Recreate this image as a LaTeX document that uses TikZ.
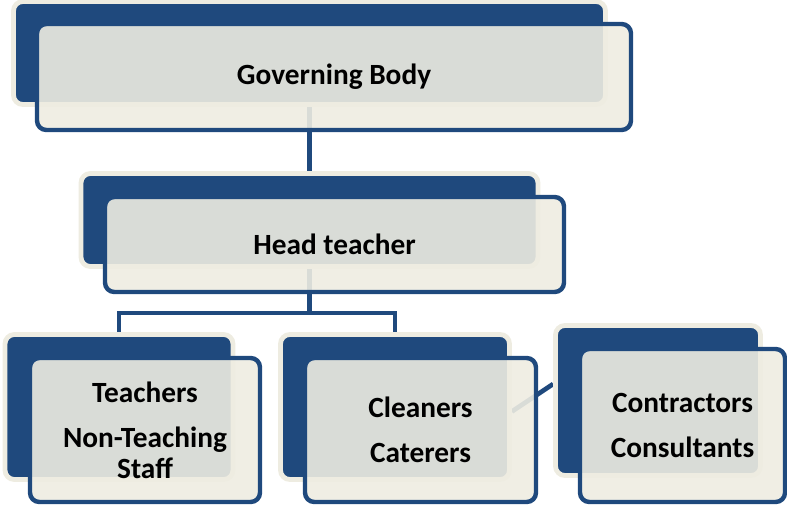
\documentclass[tikz,border=0pt]{standalone}
\usepackage{fontspec}
\setmainfont{Carlito}
\usetikzlibrary{calc}
\definecolor{orgblue}{HTML}{1F497D}
\definecolor{orgcream}{HTML}{EEECE1}
\pgfdeclarelayer{background}
\pgfsetlayers{background,main}
\tikzstyle{shadowbox}=[draw=orgcream, line width=3.6pt, fill=orgblue, rounded corners=7pt, inner sep=0pt]
\tikzstyle{frontbox}=[draw=orgblue, line width=3.3pt, fill=orgcream, fill opacity=0.9, text opacity=1, rounded corners=7pt, inner sep=0pt, align=center, font=\fontsize{22}{23.25}\selectfont\bfseries]
\tikzstyle{orgline}=[draw=orgblue, line width=3.5pt]
\tikzset{boxsize/.style 2 args={minimum width=#1*0.75pt, minimum height=#2*0.75pt}}

\begin{document}
\begin{tikzpicture}[x=0.75pt, y=-0.75pt]
    \useasboundingbox (0,0) rectangle (787,506);
    \node [shadowbox, boxsize={592}{103}] (gbback) at (309.5,53) {};
    \node [frontbox, boxsize={594}{106}] (gb) at ($(gbback)+(24.5,24)$) {Governing Body};
    \node [shadowbox, boxsize={457}{93}] (htback) at (309.5,220) {};
    \node [frontbox, boxsize={459}{95}] (ht) at ($(htback)+(25,24.5)$) {Head teacher};
    \node [shadowbox, boxsize={228}{145}] (tchback) at (119,407) {};
    \node [frontbox, boxsize={230}{144}] (tch) at ($(tchback)+(26,23)$) {Teachers\\[10.5pt]Non-Teaching\\Staff};
    \node [shadowbox, boxsize={229}{145}] (clnback) at (395,407) {};
    \node [frontbox, boxsize={231}{144}] (cln) at ($(clnback)+(25.5,23)$) {Cleaners\\[10.5pt]Caterers};
    \node [shadowbox, boxsize={205}{150}] (conback) at (658,400.5) {};
    \node [frontbox, boxsize={205}{153}] (con) at ($(conback)+(24.5,25)$) {Contractors\\[10.5pt]Consultants};
    \coordinate (bus) at (309.5,313);
    \coordinate (clnlink) at ($(clnback.east)+(0,4.5)$);
    \coordinate (conlink) at ($(conback.west)+(0,-16.5)$);
    \begin{pgfonlayer}{background}
        \draw [orgline] (gbback.center) -- (htback.center);
        \draw [orgline] (htback.center) -- (bus) -| (tchback.center);
        \draw [orgline] (bus) -| (clnback.center);
        \draw [orgline] (clnlink) -- (conlink);
    \end{pgfonlayer}
\end{tikzpicture}
\end{document}
